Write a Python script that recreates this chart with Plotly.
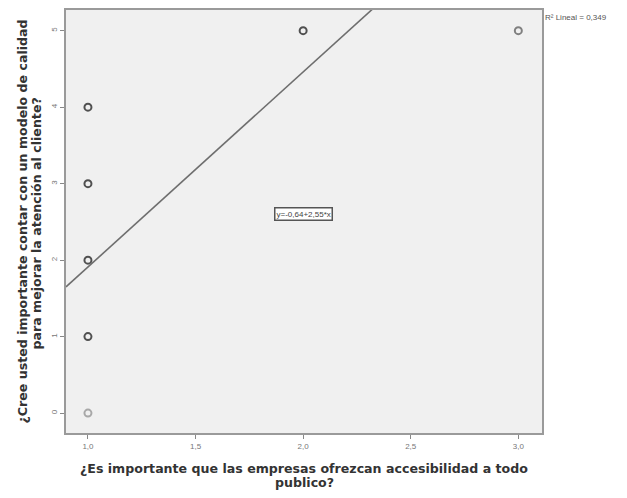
import plotly.graph_objects as go

# Observed responses (x: accesibilidad, y: modelo de calidad)
x_vals = [1, 1, 1, 1, 1, 2, 3]
y_vals = [0, 1, 2, 3, 4, 5, 5]
point_colors = ["#a8a8a8", "#505050", "#505050", "#505050", "#505050", "#505050", "#808080"]

# Fitted linear regression
intercept = -0.64
slope = 2.55
r2_text = "R² Lineal = 0,349"
eq_text = "y=-0,64+2,55*x"

x_ticks = [1.0, 1.5, 2.0, 2.5, 3.0]
x_tick_labels = ["1,0", "1,5", "2,0", "2,5", "3,0"]
y_ticks = [0, 1, 2, 3, 4, 5]

x_title_lines = ["¿Es importante que las empresas ofrezcan accesibilidad a todo", "publico?"]
y_title_lines = ["¿Cree usted importante contar con un modelo de calidad",
                 "para mejorar la atención al cliente?"]

x_range = [0.898, 3.11]
y_range = [-0.26, 5.27]

fig = go.Figure()

line_x = [x_range[0], x_range[1]]
line_y = [intercept + slope * v for v in line_x]
fig.add_trace(go.Scatter(
    x=line_x, y=line_y, mode="lines",
    line=dict(color="#6e6e6e", width=1.6),
    hoverinfo="skip", showlegend=False, cliponaxis=True,
))

fig.add_trace(go.Scatter(
    x=x_vals, y=y_vals, mode="markers",
    marker=dict(symbol="circle-open", size=7, color=point_colors,
                line=dict(width=2, color=point_colors)),
    showlegend=False,
))

axis_font = dict(family="Liberation Sans, Arial, sans-serif", size=8, color="#777777")
title_font = dict(family="DejaVu Sans, Verdana, sans-serif", size=12.6, color="#333333")

fig.update_xaxes(
    range=x_range, tickvals=x_ticks, ticktext=x_tick_labels,
    ticks="outside", ticklen=4, tickcolor="#888888", tickwidth=1,
    showgrid=False, zeroline=False, tickfont=axis_font,
    showline=True, linecolor="#9a9a9a", linewidth=2, mirror=True,
)
fig.update_yaxes(
    range=y_range, tickvals=y_ticks,
    ticks="outside", ticklen=4, tickcolor="#888888", tickwidth=1,
    showgrid=False, zeroline=False, tickfont=axis_font, tickangle=-90,
    showline=True, linecolor="#9a9a9a", linewidth=2, mirror=True,
)

# Axis titles as separate lines for tight line spacing
for i, line in enumerate(x_title_lines):
    fig.add_annotation(
        x=0.5, y=0, xref="paper", yref="paper", xanchor="center", yanchor="middle",
        yshift=-35 - 14 * i, text=f"<b>{line}</b>", showarrow=False, font=title_font,
    )
for i, line in enumerate(y_title_lines):
    fig.add_annotation(
        x=0, y=0.5, xref="paper", yref="paper", xanchor="center", yanchor="middle",
        xshift=-44 + 14 * i, yshift=-2 * i, textangle=-90,
        text=f"<b>{line}</b>", showarrow=False, font=title_font,
    )

fig.add_annotation(
    x=2.0, y=2.6, xref="x", yref="y", text=eq_text, showarrow=False,
    font=dict(family="Liberation Sans, Arial, sans-serif", size=8, color="#444444"),
    bgcolor="#ffffff", bordercolor="#555555", borderwidth=1.5, borderpad=1,
)
fig.add_annotation(
    x=1.0, y=1.0, xref="paper", yref="paper", xanchor="left", yanchor="top",
    xshift=1, yshift=-1,
    text=r2_text, showarrow=False,
    font=dict(family="Liberation Sans, Arial, sans-serif", size=8, color="#555555"),
)

fig.update_layout(
    width=627, height=498,
    margin=dict(l=66, r=85, t=8, b=65),
    plot_bgcolor="#f0f0f0", paper_bgcolor="#ffffff",
)

fig.write_html("out.html")
